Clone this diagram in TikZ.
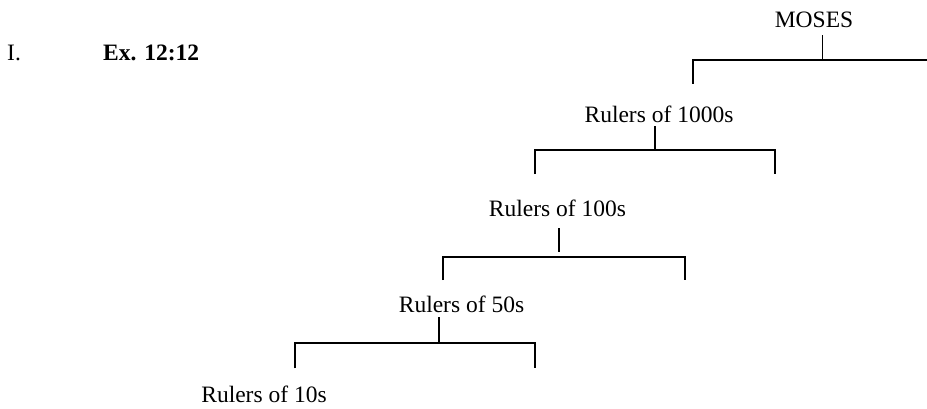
\documentclass[tikz,border=0pt]{standalone}
\usepackage{fontspec}
\setmainfont{Liberation Serif}
\begin{document}
\begin{tikzpicture}[x=1pt,y=-1pt,
  lbl/.style={inner sep=0pt,anchor=base,font=\fontsize{23.5}{26}\selectfont},
  lblw/.style={inner sep=0pt,anchor=base west,font=\fontsize{23.5}{26}\selectfont},
  bar/.style={line width=1.7pt,line join=miter},
  stem/.style={line width=1.5pt}]
\useasboundingbox (0,0) rectangle (927,408);
% texts
\node[lblw] (num) at (7,60) {I.};
\node[lblw] (ref) at (103,60) {\bfseries Ex. 12:12};
\node[lbl] (moses) at (814,27.3) {MOSES};
\node[lbl] (r1000) at (659,122.7) {Rulers of 1000s};
\node[lbl] (r100) at (557.5,216.7) {Rulers of 100s};
\node[lbl] (r50) at (461.5,312) {Rulers of 50s};
\node[lbl] (r10) at (264,402) {Rulers of 10s};
% MOSES bracket
\coordinate (m0) at (822.7,35);
\coordinate (m1) at (822.7,60);
\coordinate (mL) at (692.7,60);
\coordinate (mLd) at (692.7,83.5);
\coordinate (mR) at (927,60);
\draw[stem] (m0) -- (m1);
\draw[bar] (mLd) -- (mL) -- (mR);
% 1000s bracket
\coordinate (a0) at (655,126);
\coordinate (a1) at (655,150);
\coordinate (aL) at (535,150);
\coordinate (aR) at (775,150);
\coordinate (aLd) at (535,174);
\coordinate (aRd) at (775,174);
\draw[stem] (a0) -- (a1);
\draw[bar] (aLd) -- (aL) -- (aR) -- (aRd);
% 100s bracket
\coordinate (b0) at (559,228);
\coordinate (b1) at (559,252);
\coordinate (bL) at (443,256.7);
\coordinate (bR) at (685,256.7);
\coordinate (bLd) at (443,280);
\coordinate (bRd) at (685,280);
\draw[stem,line width=1.2pt] (b0) -- (b1);
\draw[bar] (bLd) -- (bL) -- (bR) -- (bRd);
% 50s bracket
\coordinate (c0) at (439,317.3);
\coordinate (c1) at (439,343.3);
\coordinate (cL) at (295,343.3);
\coordinate (cR) at (535,343.3);
\coordinate (cLd) at (295,368.3);
\coordinate (cRd) at (535,368.3);
\draw[stem,line width=1.2pt] (c0) -- (c1);
\draw[bar] (cLd) -- (cL) -- (cR) -- (cRd);
\end{tikzpicture}
\end{document}
